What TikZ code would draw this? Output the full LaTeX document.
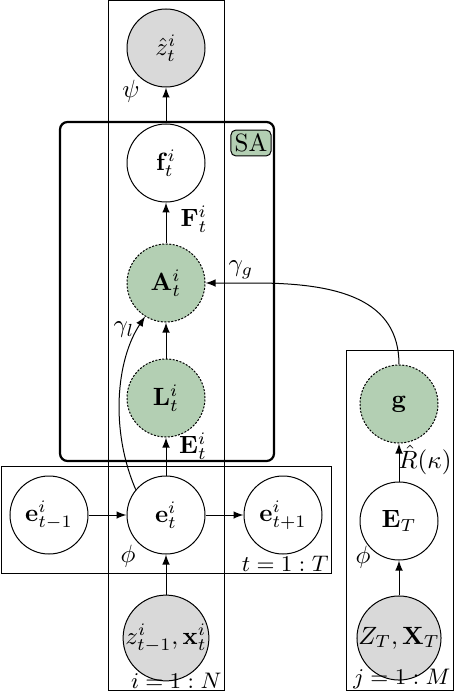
\documentclass[tikz,border=0pt]{standalone}
\usetikzlibrary{arrows}
\definecolor{obsgray}{RGB}{217,217,217}
\definecolor{detgreen}{RGB}{179,207,179}
\begin{document}
\begin{tikzpicture}[x=0.4pt,y=-0.4pt,
  latent/.style={circle,draw,minimum size=31.2pt,inner sep=0pt,fill=white},
  obs/.style={latent,fill=obsgray},
  det/.style={latent,fill=detgreen,dash pattern=on 0.8pt off 0.6pt},
  plate/.style={draw,line width=0.4pt},
  edge/.style={-latex},
  lbl/.style={inner sep=0pt},
  platelbl/.style={inner sep=0pt,anchor=south east,font=\small}]
\useasboundingbox (0,0) rectangle (454,692);
% plates
\draw[plate] (108,1) rectangle (224,690);
\draw[plate] (1,466) rectangle (331,573);
\draw[plate] (346,350) rectangle (453,690);
\draw[line width=0.9pt,rounded corners=3pt] (60,122) rectangle (274,461);
\node[lbl,draw,fill=detgreen,rounded corners=2pt,inner sep=1.5pt] (sa) at (251,143) {SA};
% nodes
\node[obs] (zh) at (166,48) {$\hat{z}^i_t$};
\node[latent] (f) at (166,163) {$\mathbf{f}^i_t$};
\node[det] (A) at (166,283) {$\mathbf{A}^i_t$};
\node[det] (L) at (166,398) {$\mathbf{L}^i_t$};
\node[latent] (em) at (49,515) {$\mathbf{e}^i_{t-1}$};
\node[latent] (e) at (166,515) {$\mathbf{e}^i_t$};
\node[latent] (ep) at (283,515) {$\mathbf{e}^i_{t+1}$};
\node[obs,inner sep=0pt] (zx) at (166,638) {$z^i_{t-1},\mathbf{x}^i_t$};
\node[det] (g) at (399,404) {$\mathbf{g}$};
\node[latent] (ET) at (399,521) {$\mathbf{E}_T$};
\node[obs] (ZX) at (399,638) {$Z_T,\mathbf{X}_T$};
% edges
\draw[edge] (f) -- (zh);
\draw[edge] (A) -- (f);
\draw[edge] (L) -- (A);
\draw[edge] (e) -- (L);
\draw[edge] (em) -- (e);
\draw[edge] (e) -- (ep);
\draw[edge] (zx) -- (e);
\draw[edge] (ZX) -- (ET);
\draw[edge] (ET) -- (g);
\draw[edge] (e.140) .. controls (110,430) and (116,360) .. (A.238);
\draw[edge] (g.north) .. controls (399,300) and (340,283) .. (255,283) -- (A.east);
% labels
\node[lbl] (psi) at (131,91) {$\psi$};
\node[lbl] (F) at (194,219) {$\mathbf{F}^i_t$};
\node[lbl] (gg) at (241,270) {$\gamma_g$};
\node[lbl] (gl) at (124,330) {$\gamma_l$};
\node[lbl] (E) at (193,446) {$\mathbf{E}^i_t$};
\node[lbl] (phi1) at (128,556) {$\phi$};
\node[platelbl] (tT) at (329,572) {$t=1:T$};
\node[platelbl] (iN) at (222,689) {$i=1:N$};
\node[platelbl] (jM) at (451,689) {$j=1:M$};
\node[lbl] (phi2) at (363,557) {$\phi$};
\node[lbl] (R) at (425,460) {$\hat{R}(\kappa)$};
\end{tikzpicture}
\end{document}
